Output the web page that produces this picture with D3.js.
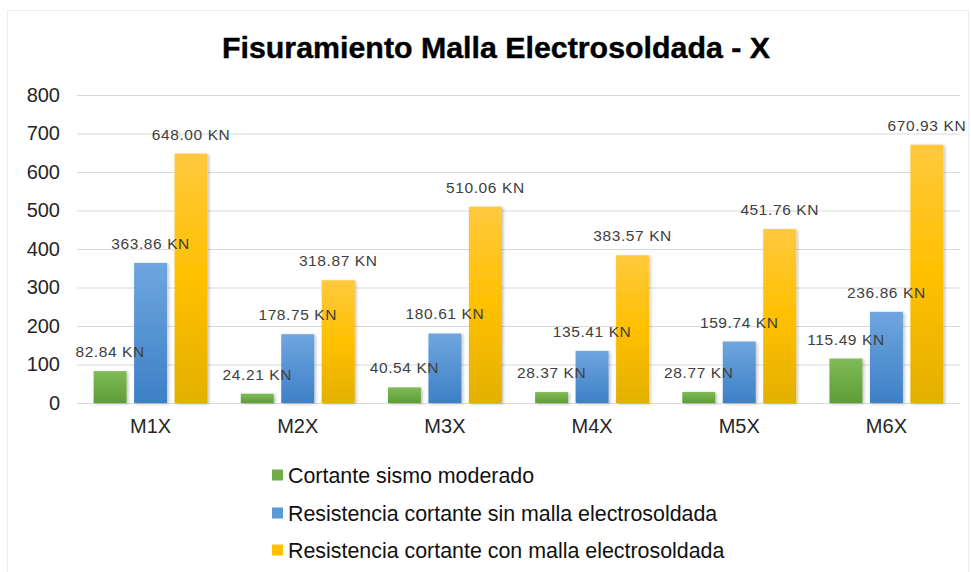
<!DOCTYPE html>
<html>
<head>
<meta charset="utf-8">
<script src="https://cdn.jsdelivr.net/npm/d3@7"></script>
<style>
  html, body { margin: 0; padding: 0; background: #fff; }
  svg { display: block; font-family: "Liberation Sans", Arial, sans-serif; }
</style>
</head>
<body>
<svg id="chart" width="971" height="572"></svg>
<script>
// Shear-crack check for each wall: demand vs. capacity with and without welded mesh
const categories = ["M1X", "M2X", "M3X", "M4X", "M5X", "M6X"];
const seriesNames = [
  "Cortante sismo moderado",
  "Resistencia cortante sin malla electrosoldada",
  "Resistencia cortante con malla electrosoldada"
];
const cortanteSismo = [82.84, 24.21, 40.54, 28.37, 28.77, 115.49];
const resistenciaSinMalla = [363.86, 178.75, 180.61, 135.41, 159.74, 236.86];
const resistenciaConMalla = [648.00, 318.87, 510.06, 383.57, 451.76, 670.93];
const yTicks = [0, 100, 200, 300, 400, 500, 600, 700, 800];

const seriesValues = [cortanteSismo, resistenciaSinMalla, resistenciaConMalla];
const gradients = [
  ["#7fbb57", "#5f9d36"],
  ["#6fa6df", "#3d80c6"],
  ["#ffc93e", "#ffc000", "#e3b000"]
];
const legendColors = ["#70ad47", "#5b9bd5", "#ffc000"];

const svg = d3.select("#chart");
const plot = { left: 77, right: 960, top: 95, bottom: 403 };

// light frame round the chart area
svg.append("rect")
  .attr("x", 7.5).attr("y", 10.5).attr("width", 961).attr("height", 570)
  .attr("fill", "none").attr("stroke", "#ececec");

const defs = svg.append("defs");
gradients.forEach((stops, i) => {
  const g = defs.append("linearGradient")
    .attr("id", "grad" + i).attr("x1", 0).attr("y1", 0).attr("x2", 0).attr("y2", 1);
  stops.forEach((c, j) => g.append("stop")
    .attr("offset", (j / (stops.length - 1) * 100) + "%").attr("stop-color", c));
});
const shadow = defs.append("filter").attr("id", "shadow")
  .attr("x", "-20%").attr("y", "-10%").attr("width", "150%").attr("height", "130%");
shadow.append("feDropShadow").attr("dx", 1.5).attr("dy", 1).attr("stdDeviation", 1.5)
  .attr("flood-color", "#000").attr("flood-opacity", 0.25);

const y = d3.scaleLinear().domain([0, 800]).range([plot.bottom, plot.top]);
const x0 = d3.scaleBand().domain(categories).range([plot.left, plot.right])
  .paddingInner(0.175).paddingOuter(0.0875);
const x1 = d3.scaleBand().domain(d3.range(seriesNames.length)).range([0, x0.bandwidth()])
  .paddingInner(0.185).paddingOuter(0.0925);

// Title
svg.append("text")
  .attr("x", 496).attr("y", 58)
  .attr("text-anchor", "middle")
  .attr("font-size", 29).attr("font-weight", 900)
  .attr("textLength", 548).attr("lengthAdjust", "spacingAndGlyphs")
  .attr("fill", "#000").attr("stroke", "#000").attr("stroke-width", 0.4)
  .text("Fisuramiento Malla Electrosoldada - X");

// Gridlines and y axis labels
const yAxis = svg.append("g")
  .attr("transform", `translate(${plot.left},0)`)
  .call(d3.axisLeft(y).tickValues(yTicks).tickSize(-(plot.right - plot.left)).tickPadding(17));
yAxis.select(".domain").remove();
yAxis.selectAll(".tick line").attr("stroke", "#d9d9d9").attr("stroke-width", 1.2);
yAxis.selectAll(".tick text")
  .attr("font-size", 20).attr("fill", "#262626")
  .attr("font-family", "Liberation Sans, Arial, sans-serif");

// x axis labels
const xAxis = svg.append("g")
  .attr("transform", `translate(0,${plot.bottom})`)
  .call(d3.axisBottom(x0).tickSize(0).tickPadding(16));
xAxis.select(".domain").remove();
xAxis.selectAll(".tick text")
  .attr("font-size", 20).attr("fill", "#262626")
  .attr("font-family", "Liberation Sans, Arial, sans-serif");

// Bars
const groups = svg.append("g").selectAll("g")
  .data(categories).join("g")
  .attr("transform", d => `translate(${x0(d)},0)`);

groups.each(function (cat, ci) {
  const g = d3.select(this);
  seriesValues.forEach((vals, si) => {
    const v = vals[ci];
    g.append("rect")
      .attr("x", x1(si)).attr("width", x1.bandwidth())
      .attr("y", y(v)).attr("height", y(0) - y(v))
      .attr("fill", `url(#grad${si})`)
      .attr("filter", "url(#shadow)");
  });
});

// Value labels
groups.each(function (cat, ci) {
  const g = d3.select(this);
  seriesValues.forEach((vals, si) => {
    const v = vals[ci];
    g.append("text")
      .attr("x", x1(si) + x1.bandwidth() / 2)
      .attr("y", y(v) - 14)
      .attr("text-anchor", "middle")
      .attr("font-size", 15.5).attr("letter-spacing", 0.6)
      .attr("fill", "#404040")
      .text(d3.format(".2f")(v) + " KN");
  });
});

// Legend
const legend = svg.append("g");
const legendRows = [475, 513, 550];
seriesNames.forEach((name, i) => {
  legend.append("rect")
    .attr("x", 272).attr("y", legendRows[i] - 5.5)
    .attr("width", 11).attr("height", 11)
    .attr("fill", legendColors[i]);
  legend.append("text")
    .attr("x", 288).attr("y", legendRows[i] + 7.5)
    .attr("font-size", 21.4).attr("fill", "#111")
    .text(name);
});
</script>
</body>
</html>
